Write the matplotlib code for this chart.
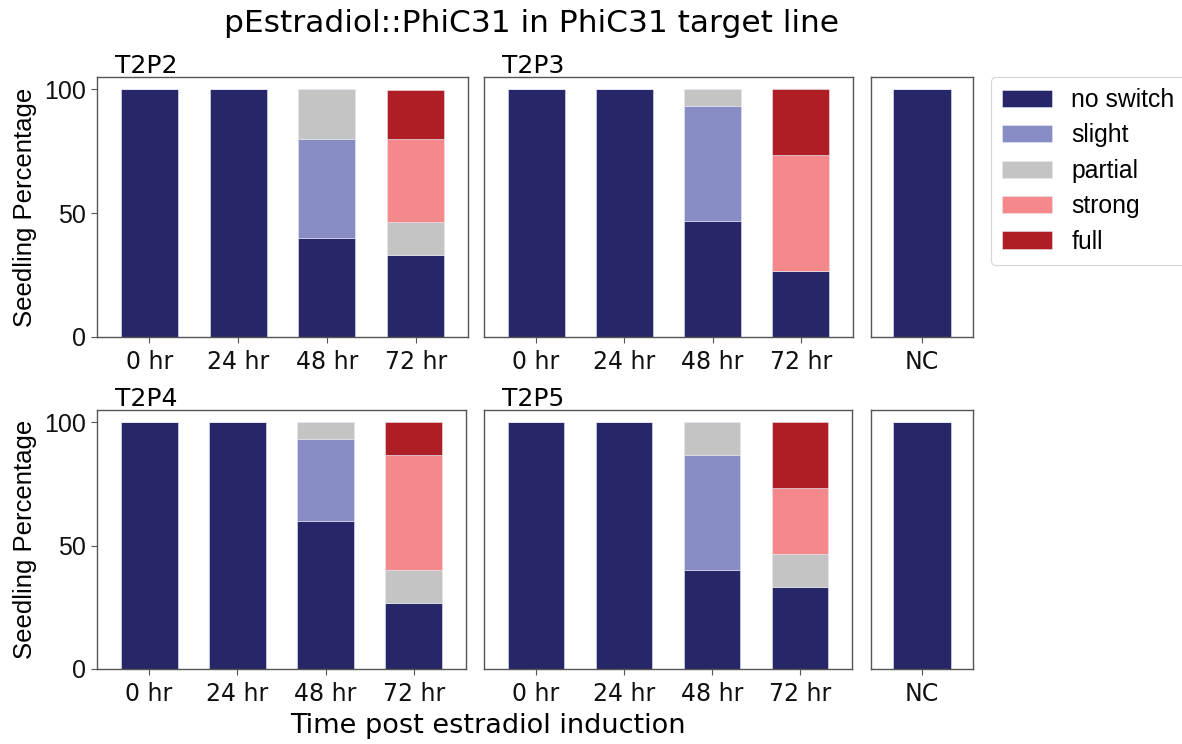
import matplotlib
matplotlib.use("Agg")
import matplotlib.pyplot as plt
from matplotlib.patches import Patch
import matplotlib.transforms as mtransforms
import numpy as np

categories = ["no switch", "slight", "partial", "strong", "full"]
colors = ["#262668", "#878dc4", "#c4c4c4", "#f4888b", "#b01e25"]
timepoints = ["0 hr", "24 hr", "48 hr", "72 hr"]

# values per line: rows = categories, cols = timepoints
T2P2 = {
    "no switch": [100, 100, 40.0, 33.3],
    "slight":    [0, 0, 40.0, 0],
    "partial":   [0, 0, 20.0, 13.3],
    "strong":    [0, 0, 0, 33.3],
    "full":      [0, 0, 0, 20.0],
}
T2P3 = {
    "no switch": [100, 100, 46.7, 26.7],
    "slight":    [0, 0, 46.7, 0],
    "partial":   [0, 0, 6.7, 0],
    "strong":    [0, 0, 0, 46.7],
    "full":      [0, 0, 0, 26.7],
}
T2P4 = {
    "no switch": [100, 100, 60.0, 26.7],
    "slight":    [0, 0, 33.3, 0],
    "partial":   [0, 0, 6.7, 13.3],
    "strong":    [0, 0, 0, 46.7],
    "full":      [0, 0, 0, 13.3],
}
T2P5 = {
    "no switch": [100, 100, 40.0, 33.3],
    "slight":    [0, 0, 46.7, 0],
    "partial":   [0, 0, 13.3, 13.3],
    "strong":    [0, 0, 0, 26.7],
    "full":      [0, 0, 0, 26.7],
}
NC_label = ["NC"]
NC = {"no switch": [100], "slight": [0], "partial": [0], "strong": [0], "full": [0]}

W, H = 1182, 744
fig = plt.figure(figsize=(W / 100, H / 100), dpi=100)

def px_axes(l, r, t, b):
    return fig.add_axes([l / W, 1 - b / H, (r - l) / W, (b - t) / H])

ARIAL = "Liberation Sans"
spine_col = "#555555"
BW = 0.644

def draw(ax, data, labels, title=None, ylab=True):
    x = np.arange(len(labels))
    bottom = np.zeros(len(labels))
    for cat, col in zip(categories, colors):
        vals = np.array(data[cat], dtype=float)
        ax.bar(x, vals, BW, bottom=bottom, color=col, edgecolor="#e6e6f2", linewidth=0.4)
        bottom += vals
    ax.set_xticks(x)
    ax.set_xticklabels(labels, fontsize=17, family="DejaVu Sans")
    ax.set_ylim(0, 105)
    for s in ax.spines.values():
        s.set_color(spine_col)
        s.set_linewidth(1.0)
    ax.tick_params(axis="x", colors=spine_col, labelcolor="#111111", length=4.5, pad=5)
    if ylab:
        ax.set_yticks([0, 50, 100])
        ax.set_yticklabels(["0", "50", "100"], fontsize=18, family=ARIAL)
        ax.tick_params(axis="y", colors=spine_col, labelcolor="#111111", length=4.5, pad=3.5)
        ax.set_ylabel("Seedling Percentage", fontsize=18.5, family=ARIAL, labelpad=5)
    else:
        ax.set_yticks([])
    if title:
        tr = mtransforms.offset_copy(ax.transAxes, fig=fig, x=18, y=4, units="dots")
        ax.text(0, 1, title, transform=tr, ha="left", va="baseline",
                fontsize=18, family="DejaVu Sans")

a1 = px_axes(97, 468, 77, 337)
a1.set_xlim(-0.59, 3.59)
draw(a1, T2P2, timepoints, "T2P2")
a2 = px_axes(484, 853, 77, 337)
a2.set_xlim(-0.59, 3.59)
draw(a2, T2P3, timepoints, "T2P3", ylab=False)
a3 = px_axes(871, 973, 77, 337)
a3.set_xlim(-0.575, 0.575)
draw(a3, NC, NC_label, ylab=False)

a4 = px_axes(97, 466, 410, 669)
a4.set_xlim(-0.59, 3.59)
draw(a4, T2P4, timepoints, "T2P4")
a5 = px_axes(484, 852, 410, 669)
a5.set_xlim(-0.59, 3.59)
draw(a5, T2P5, timepoints, "T2P5", ylab=False)
a6 = px_axes(871, 973, 410, 669)
a6.set_xlim(-0.575, 0.575)
draw(a6, NC, NC_label, ylab=False)

fig.text(531 / W, 1 - 23 / H, "pEstradiol::PhiC31 in PhiC31 target line",
         ha="center", va="center", fontsize=22.5, family="DejaVu Sans")
fig.text(488 / W, 1 - 726 / H, "Time post estradiol induction",
         ha="center", va="center", fontsize=19.5, family="DejaVu Sans")

handles = [Patch(facecolor=c, edgecolor="#e6e6f2", linewidth=0.4) for c in colors]
leg = fig.legend(handles, categories, loc="upper left",
                 bbox_to_anchor=(991 / W, 1 - 77 / H),
                 prop={"family": ARIAL, "size": 17.8},
                 handlelength=2.0, handleheight=0.7, labelspacing=0.46,
                 handletextpad=0.8, borderpad=0.45, borderaxespad=0,
                 frameon=True, fancybox=True)
leg.get_frame().set_edgecolor("#cccccc")
leg.get_frame().set_linewidth(0.8)

fig.savefig("out.png", dpi=100)
